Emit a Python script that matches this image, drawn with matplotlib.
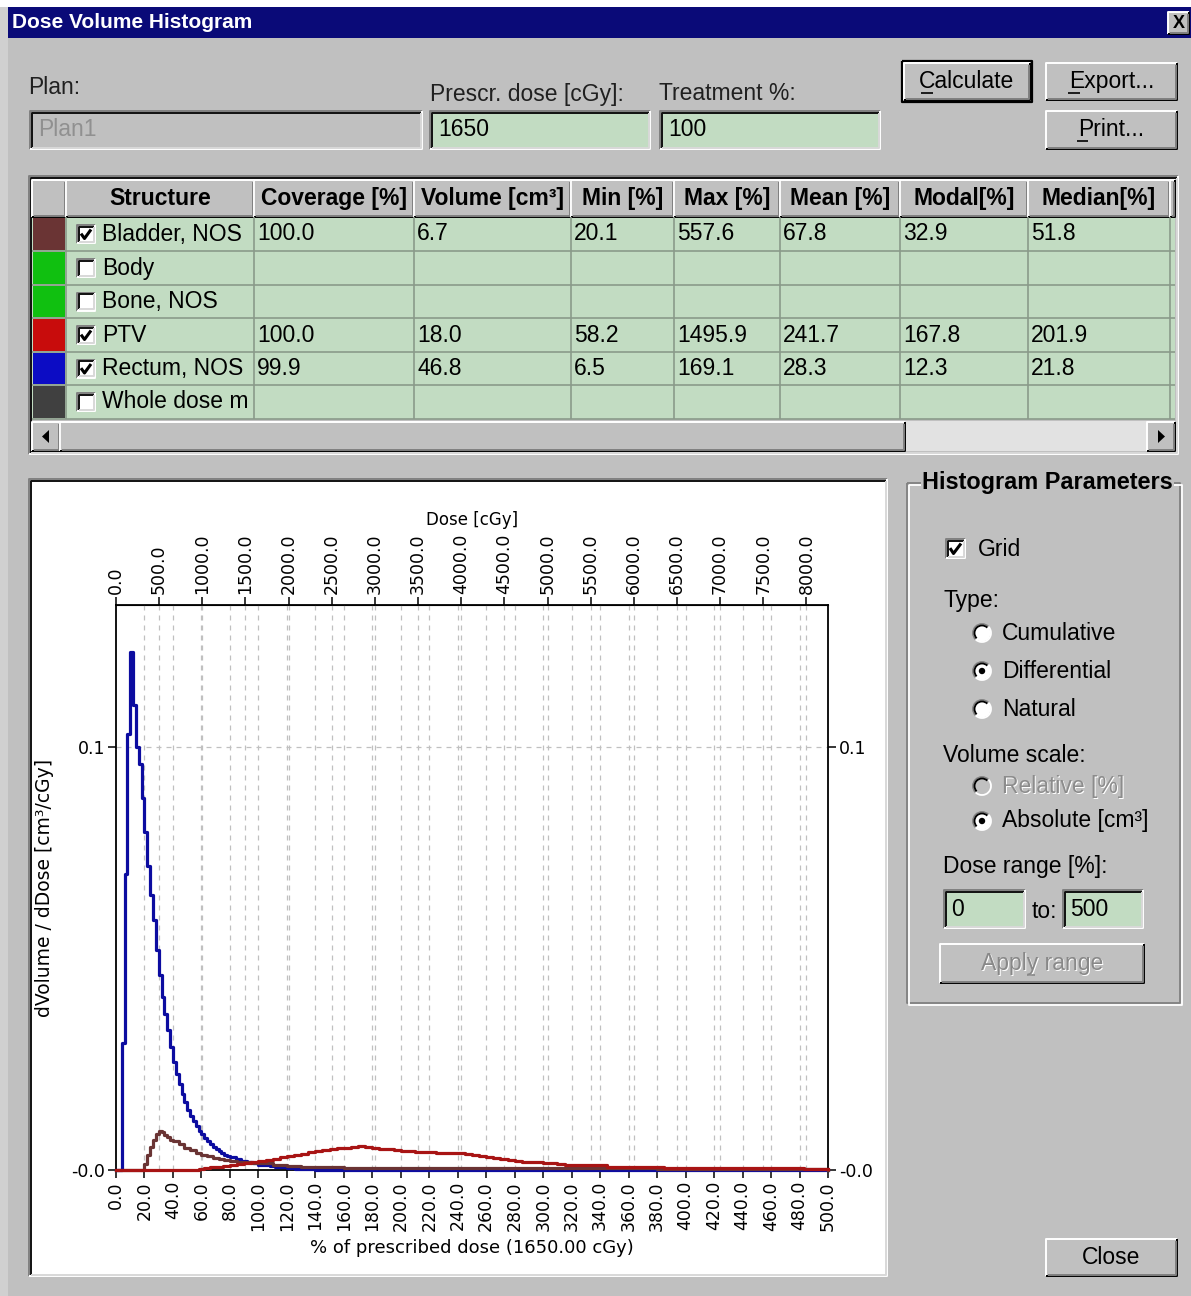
import numpy as np
import matplotlib.pyplot as plt
from matplotlib.patches import Rectangle, Circle, Arc, Polygon

plt.rcParams['font.family'] = ['Liberation Sans', 'DejaVu Sans']

W, H = 1191, 1296
BG = '#c0c0c0'
GREEN = '#c2dcc2'
NAVY = '#0a0a78'
FS = 16.5

# differential DVH, dose in % of prescription, volume in cm3/cGy (step edges)
rectum_dose = [0, 4, 6, 8, 10, 12, 14, 16, 18, 20,
               22, 24, 26, 28, 30, 32, 34, 36, 38, 40, 42, 44, 46, 48, 50,
               52, 54, 56, 58, 60, 62, 64, 66, 68, 70, 72, 74, 76, 78, 80,
               84, 88, 92, 96, 100, 104, 108, 112, 116, 120,
               126, 132, 140, 500]
rectum_dvh = [0.0, 0.030, 0.070, 0.103, 0.1225, 0.110, 0.100, 0.096, 0.088, 0.080,
              0.072, 0.065, 0.059, 0.052, 0.046, 0.041, 0.037, 0.033, 0.029, 0.0255,
              0.0228, 0.0203, 0.0180, 0.0160, 0.0143, 0.0128, 0.0115, 0.0103, 0.0093, 0.0084,
              0.0076, 0.0068, 0.0061, 0.0055, 0.0049, 0.0044, 0.0040, 0.0036, 0.0033, 0.0030,
              0.0026, 0.0022, 0.0018, 0.0016, 0.0013, 0.0011, 0.0009, 0.0007, 0.0006, 0.0005,
              0.0003, 0.0002, 0.0, 0.0]

bladder_dose = [0, 20, 22, 24, 26, 28, 30, 32, 34, 36, 38, 40,
                44, 48, 52, 56, 60, 64, 68, 72, 76, 80,
                85, 90, 95, 100, 110, 120, 130, 140,
                160, 200, 260, 340, 380, 420, 500]
bladder_dvh = [0.0, 0.0015, 0.0035, 0.0055, 0.0072, 0.0085, 0.0093, 0.0090, 0.0083, 0.0077, 0.0072, 0.0068,
               0.0061, 0.0053, 0.0047, 0.0041, 0.0036, 0.0032, 0.0029, 0.0026, 0.0024, 0.0022,
               0.0020, 0.0019, 0.0017, 0.0016, 0.0013, 0.0010, 0.0008, 0.0006,
               0.0005, 0.0004, 0.0004, 0.0005, 0.0003, 0.0002, 0.0001]

ptv_dose = [0, 58, 62, 66, 70,
            75, 80, 85, 90, 95, 100, 105, 110, 115, 120, 125, 130, 135, 140, 145,
            150, 155, 160, 165, 170, 175, 180, 185, 190, 195, 200, 205, 210, 215, 220,
            225, 230, 235, 240, 245, 250, 255, 260, 265, 270, 275, 280, 285, 290, 295,
            300, 305, 310, 315, 320,
            330, 340, 345, 360, 380, 385, 420, 483, 500]
ptv_dvh = [0.0, 0.0002, 0.0004, 0.0006, 0.0008,
           0.0010, 0.0012, 0.0014, 0.0016, 0.0018, 0.0021, 0.0024, 0.0027, 0.0030, 0.0033,
           0.0036, 0.0039, 0.0042, 0.0045, 0.0047, 0.0049, 0.0051, 0.0053, 0.0055, 0.0056,
           0.0055, 0.0052, 0.0050, 0.0049, 0.0047, 0.0046, 0.0044, 0.0043, 0.0042, 0.0042,
           0.0041, 0.0041, 0.0040, 0.0040, 0.0038, 0.0036, 0.0034, 0.0031, 0.0028, 0.0025,
           0.0023, 0.0021, 0.0020, 0.0019, 0.0018, 0.0017, 0.0016, 0.0014, 0.0013, 0.0012,
           0.0012, 0.0011, 0.0008, 0.0008, 0.0007, 0.0005, 0.0004, 0.0002, 0.0002]

prescribed_dose = 1650
pct_ticks = list(range(0, 501, 20))
cgy_ticks = list(range(0, 8001, 500))

# structure table
columns = ['Structure', 'Coverage [%]', 'Volume [cm³]', 'Min [%]', 'Max [%]',
           'Mean [%]', 'Modal[%]', 'Median[%]']
structures = ['Bladder, NOS', 'Body', 'Bone, NOS', 'PTV', 'Rectum, NOS', 'Whole dose m']
checked = [True, False, False, True, True, False]
swatches = ['#6a3434', '#10c010', '#10c010', '#c80c0c', '#0c0cc4', '#404040']
coverage = ['100.0', '', '', '100.0', '99.9', '']
volume = ['6.7', '', '', '18.0', '46.8', '']
dose_min = ['20.1', '', '', '58.2', '6.5', '']
dose_max = ['557.6', '', '', '1495.9', '169.1', '']
dose_mean = ['67.8', '', '', '241.7', '28.3', '']
dose_modal = ['32.9', '', '', '167.8', '12.3', '']
dose_median = ['51.8', '', '', '201.9', '21.8', '']

fig = plt.figure(figsize=(W / 100, H / 100), dpi=100)
fig.patch.set_facecolor(BG)
ui = fig.add_axes([0, 0, 1, 1])
ui.set_xlim(0, W)
ui.set_ylim(H, 0)
ui.axis('off')


def line(xs, ys, c, lw=1.4, z=3):
    ui.plot(xs, ys, color=c, lw=lw, solid_capstyle='butt', zorder=z)


def rect(x0, y0, x1, y1, face, z=2):
    ui.add_patch(Rectangle((x0, y0), x1 - x0, y1 - y0, facecolor=face, edgecolor='none', zorder=z))


def sunken(x0, y0, x1, y1, face, z=2):
    rect(x0, y0, x1, y1, face, z)
    line([x0, x0, x1], [y1, y0, y0], '#808080', z=z + 1)
    line([x0 + 1.5, x0 + 1.5, x1 - 1.5], [y1 - 1.5, y0 + 1.5, y0 + 1.5], '#101010', z=z + 1)
    line([x0, x1, x1], [y1, y1, y0], 'white', z=z + 1)
    line([x0 + 1.5, x1 - 1.5, x1 - 1.5], [y1 - 1.5, y1 - 1.5, y0 + 1.5], '#d8d8d8', z=z + 1)


def raised(x0, y0, x1, y1, face=BG, z=2):
    rect(x0, y0, x1, y1, face, z)
    line([x0, x0, x1], [y1, y0, y0], 'white', z=z + 1)
    line([x0, x1, x1], [y1, y1, y0], '#000000', z=z + 1)
    line([x0 + 1.5, x1 - 1.5, x1 - 1.5], [y1 - 1.5, y1 - 1.5, y0 + 1.5], '#808080', z=z + 1)


def button(x0, y0, x1, y1, label, ul=None, default=False, enabled=True):
    if default:
        line([x0 - 2, x1 + 2, x1 + 2, x0 - 2, x0 - 2], [y0 - 2, y0 - 2, y1 + 2, y1 + 2, y0 - 2], 'black', lw=1.6)
    raised(x0, y0, x1, y1)
    cx, cy = (x0 + x1) / 2, (y0 + y1) / 2
    if enabled:
        ui.text(cx, cy, label, fontsize=FS, ha='center', va='center', color='black', zorder=5)
        uc = 'black'
    else:
        ui.text(cx + 1.2, cy + 1.2, label, fontsize=FS, ha='center', va='center', color='white', zorder=5)
        ui.text(cx, cy, label, fontsize=FS, ha='center', va='center', color='#888888', zorder=6)
        uc = '#888888'
    if ul is not None:
        line([ul[0], ul[1]], [cy + 11, cy + 11], uc, lw=1.2, z=6)


def checkbox(x0, y0, size, on):
    sunken(x0, y0, x0 + size, y0 + size, 'white', z=4)
    if on:
        line([x0 + 4, x0 + 7.5, x0 + size - 4], [y0 + size * 0.48, y0 + size - 4.5, y0 + 4.5], 'black', lw=2.2, z=7)


def radio(cx, cy, selected=False, enabled=True):
    ui.add_patch(Circle((cx, cy), 8.5, facecolor='white' if enabled else BG, edgecolor='none', zorder=4))
    ui.add_patch(Arc((cx, cy), 18, 18, theta1=135, theta2=315, color='#808080', lw=1.3, zorder=5))
    ui.add_patch(Arc((cx, cy), 15, 15, theta1=135, theta2=315, color='#000000', lw=1.3, zorder=5))
    ui.add_patch(Arc((cx, cy), 18, 18, theta1=315, theta2=495, color='white', lw=1.3, zorder=5))
    if selected:
        ui.add_patch(Circle((cx, cy), 3.2, facecolor='black', edgecolor='none', zorder=6))


# window frame and title bar
rect(0, 0, W, 7, 'white', z=1)
rect(0, 7, 8, H, '#d0d0d0', z=1)
rect(8, 7, W, 38, NAVY)
ui.text(12, 23, 'Dose Volume Histogram', fontsize=15, fontweight='bold', color='white', va='center', zorder=5)
raised(1168, 12, 1189, 34)
ui.text(1178.5, 23, 'X', fontsize=13, fontweight='bold', ha='center', va='center', zorder=5)

# plan / dose fields
ui.text(28, 87, 'Plan:', fontsize=FS, va='center', color='#202020')
ui.text(430, 94, 'Prescr. dose [cGy]:', fontsize=FS, va='center', color='#202020')
ui.text(659, 94, 'Treatment %:', fontsize=FS, va='center', color='#202020')
sunken(30, 111, 422, 149, BG)
ui.text(38, 130, 'Plan1', fontsize=FS, va='center', color='#909090', zorder=5)
sunken(430, 111, 650, 149, GREEN)
ui.text(438, 130, str(prescribed_dose), fontsize=FS, va='center', zorder=5)
sunken(660, 111, 880, 149, GREEN)
ui.text(668, 130, '100', fontsize=FS, va='center', zorder=5)

button(904, 63, 1030, 100, 'Calculate', ul=(921, 933), default=True)
button(1046, 63, 1177, 100, 'Export...', ul=(1068, 1080))
button(1046, 111, 1177, 149, 'Print...', ul=(1077, 1088))

# structure table
col_x = [32, 66, 254, 414, 571, 674, 780, 900, 1028, 1170, 1175]
row_y = [180, 217, 251, 285, 318, 352, 385, 419]
sunken(29, 176, 1178, 454, BG)
rect(32, 217, 1175, 419, GREEN, z=3)
# header cells
for i in range(len(col_x) - 1):
    raised(col_x[i], row_y[0], col_x[i + 1], row_y[1], z=3)
for j, name in enumerate(columns):
    x0, x1 = col_x[j + 1], col_x[j + 2]
    t = ui.text((x0 + x1) / 2, (row_y[0] + row_y[1]) / 2, name, fontsize=FS, fontweight='bold',
                ha='center', va='center', zorder=6)
    t.set_clip_path(Rectangle((x0, row_y[0]), x1 - x0, row_y[1] - row_y[0], transform=ui.transData))
# grid lines between body cells
for y in row_y[2:-1]:
    line([32, 1175], [y, y], '#8a9a8a', lw=1.2, z=4)
for x in col_x[1:-1]:
    line([x, x], [row_y[1], row_y[-1]], '#8a9a8a', lw=1.2, z=4)
line([32, 1175], [row_y[-1], row_y[-1]], '#8a9a8a', lw=1.2, z=4)

cells = [coverage, volume, dose_min, dose_max, dose_mean, dose_modal, dose_median]
for i, name in enumerate(structures):
    y0, y1 = row_y[i + 1], row_y[i + 2]
    cy = (y0 + y1) / 2
    rect(33, y0 + 1, 65, y1 - 1, swatches[i], z=5)
    checkbox(77, cy - 9, 18, checked[i])
    ui.text(102, cy, name, fontsize=FS, va='center', zorder=6)
    for j, col in enumerate(cells):
        if col[i]:
            ui.text(col_x[j + 2] + 3, cy, col[i], fontsize=FS, va='center', zorder=6)

# horizontal scroll bar
rect(32, 421, 1175, 451, '#e2e2e2', z=3)
raised(32, 422, 60, 451, z=4)
raised(60, 422, 905, 451, z=4)
raised(1147, 422, 1175, 451, z=4)
ui.add_patch(Polygon([[42, 436.5], [49, 430], [49, 443]], closed=True, facecolor='black', zorder=6))
ui.add_patch(Polygon([[1165, 436.5], [1158, 430], [1158, 443]], closed=True, facecolor='black', zorder=6))

# chart panel
sunken(29, 479, 887, 1276, 'white')

# histogram parameters group
line([907, 907, 1180, 1180, 907], [483, 1003, 1003, 483, 483], '#808080', lw=1.3)
line([908.5, 908.5, 1181.5, 1181.5, 908.5], [484.5, 1004.5, 1004.5, 484.5, 484.5], 'white', lw=1.3)
ui.text(922, 483, 'Histogram Parameters', fontsize=16.9, fontweight='bold', va='center', zorder=6,
        bbox=dict(facecolor=BG, edgecolor='none', pad=1))
checkbox(946, 539, 19, True)
ui.text(978, 549, 'Grid', fontsize=FS, va='center')
ui.text(943, 601, 'Type:', fontsize=FS, va='center')
for label, yy, sel in [('Cumulative', 633, False), ('Differential', 671, True), ('Natural', 709, False)]:
    radio(982, yy, selected=sel)
    ui.text(1002, yy, label, fontsize=FS, va='center')
ui.text(943, 755, 'Volume scale:', fontsize=FS, va='center')
radio(982, 786, enabled=False)
ui.text(1003.2, 787.2, 'Relative [%]', fontsize=FS, va='center', color='white')
ui.text(1002, 786, 'Relative [%]', fontsize=FS, va='center', color='#8c8c8c', zorder=4)
radio(982, 821, selected=True)
ui.text(1002, 821, 'Absolute [cm³]', fontsize=FS, va='center')
ui.text(943, 866, 'Dose range [%]:', fontsize=FS, va='center')
sunken(944, 890, 1025, 928, GREEN)
ui.text(951, 909, '0', fontsize=FS, va='center', zorder=5)
ui.text(1032, 912, 'to:', fontsize=FS, va='center')
sunken(1063, 890, 1143, 928, GREEN)
ui.text(1070, 909, '500', fontsize=FS, va='center', zorder=5)
button(940, 944, 1144, 983, 'Apply range', ul=(1027, 1035), enabled=False)

button(1046, 1239, 1177, 1276, 'Close')

# DVH plot
ax_left, ax_right, ax_top, ax_bottom = 116, 828, 605, 1170
ax = fig.add_axes([ax_left / W, (H - ax_bottom) / H, (ax_right - ax_left) / W, (ax_bottom - ax_top) / H])
ax.set_facecolor('white')
ax.set_xlim(0, 500)
ax.set_ylim(0, 0.1336)

grid_style = dict(color='#c0c0c0', lw=0.9, ls=(0, (4, 4)), zorder=1)
for p in pct_ticks[1:-1]:
    ax.axvline(p, **grid_style)
for d in cgy_ticks[1:]:
    ax.axvline(d / prescribed_dose * 100, **grid_style)
ax.axhline(0.1, **grid_style)

ax.plot(rectum_dose, rectum_dvh, drawstyle='steps-post', color='#0c0ca0', lw=2.3, clip_on=False, zorder=3)
ax.plot(bladder_dose, bladder_dvh, drawstyle='steps-post', color='#6a3434', lw=2.3, clip_on=False, zorder=4)
ax.plot(ptv_dose, ptv_dvh, drawstyle='steps-post', color='#a81414', lw=2.3, clip_on=False, zorder=5)

for s in ax.spines.values():
    s.set_color('black')
    s.set_linewidth(1.3)

ax.set_xticks(pct_ticks)
ax.set_xticklabels([f'{p:.1f}' for p in pct_ticks], rotation=90, family='DejaVu Sans', fontsize=12.5)
ax.set_yticks([0, 0.1])
ax.set_yticklabels(['-0.0', '0.1'], family='DejaVu Sans', fontsize=12.5)
ax.tick_params(axis='x', length=6, width=1.1, pad=2)
ax.tick_params(axis='y', length=6, width=1.1, pad=2, right=True, labelright=True)
ax.set_xlabel(f'% of prescribed dose ({prescribed_dose:.2f} cGy)', fontsize=13, family='DejaVu Sans',
              labelpad=6)
ax.set_ylabel('dVolume / dDose [cm³/cGy]', fontsize=13.5, family='DejaVu Sans', labelpad=12)

top = ax.secondary_xaxis('top', functions=(lambda p: p * prescribed_dose / 100,
                                           lambda d: d * 100 / prescribed_dose))
top.set_xticks(cgy_ticks)
top.set_xticklabels([f'{d:.1f}' for d in cgy_ticks], rotation=90, family='DejaVu Sans', fontsize=12.5)
top.tick_params(length=6, width=1.1, pad=2)
top.set_xlabel('Dose [cGy]', fontsize=12, family='DejaVu Sans', labelpad=6)

fig.savefig('out.png', dpi=100, facecolor=BG)
